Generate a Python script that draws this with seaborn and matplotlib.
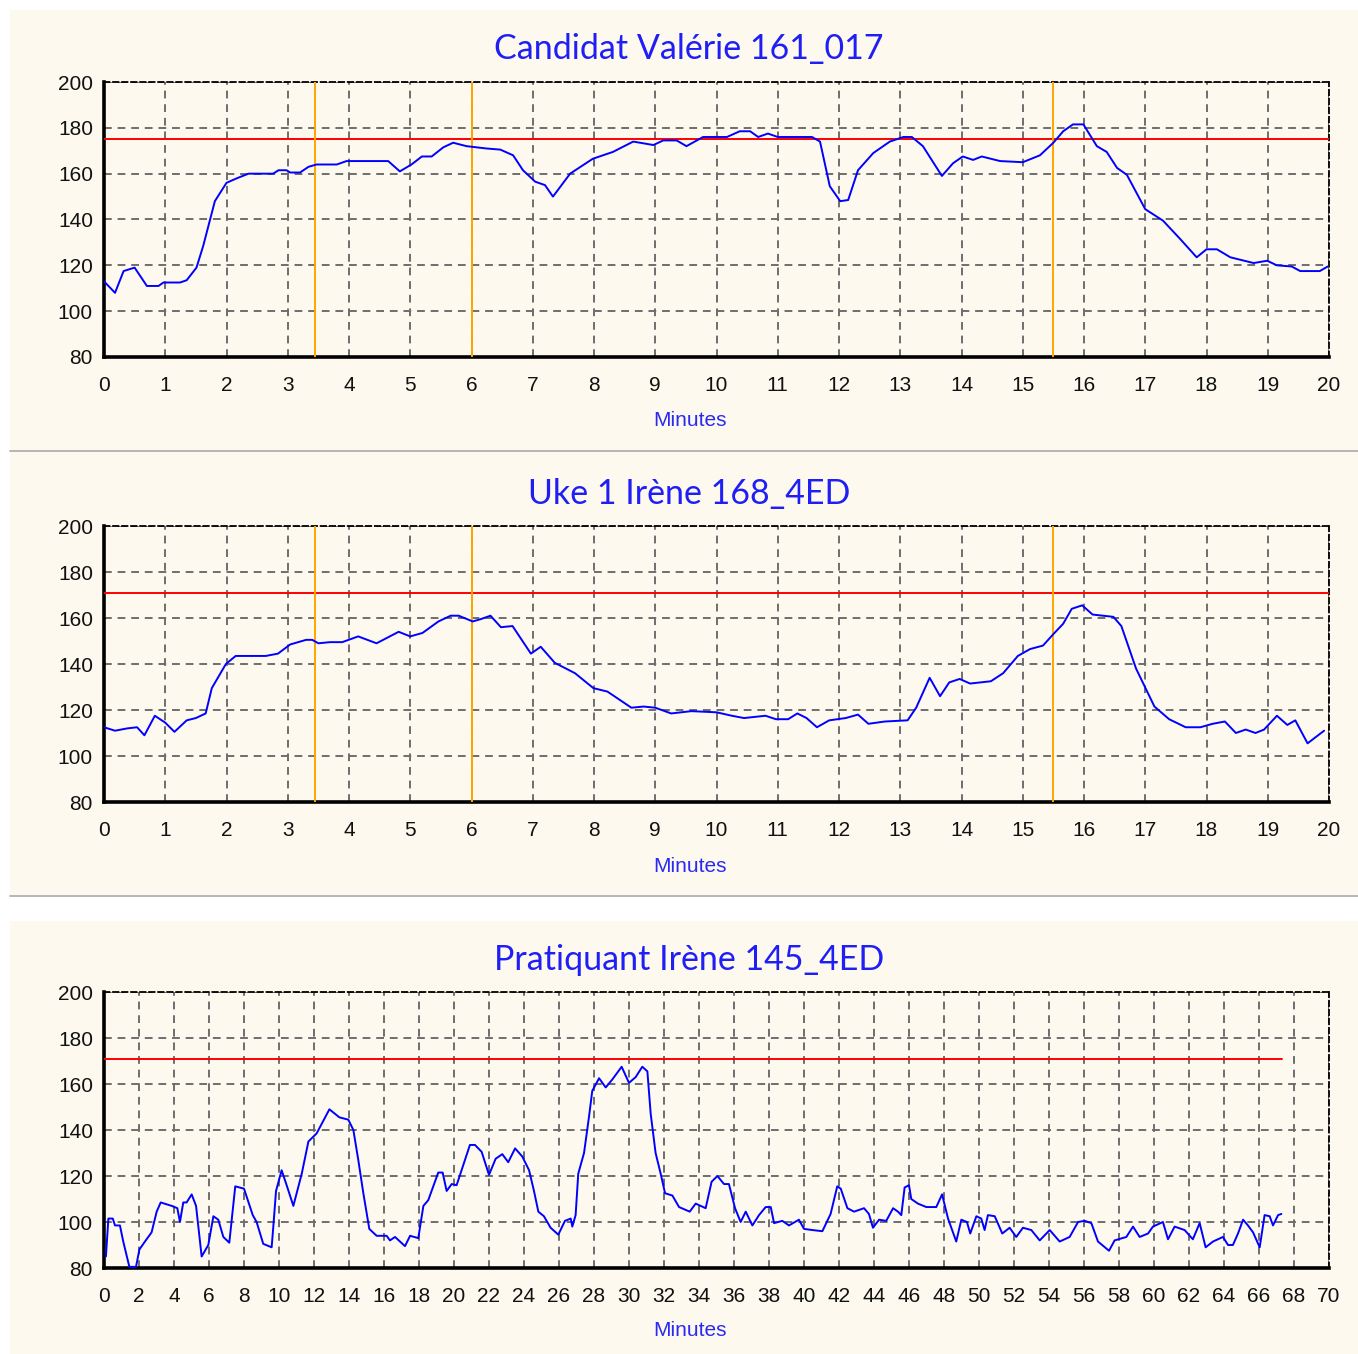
import numpy as np
import pandas as pd
import matplotlib
matplotlib.use("Agg")
import matplotlib.pyplot as plt
import seaborn as sns
from matplotlib.patches import Rectangle
from matplotlib.lines import Line2D
from matplotlib.ticker import MultipleLocator

# --- data (minutes, heart rate bpm) ---
titles = ["Candidat Valérie 161_017", "Uke 1 Irène 168_4ED", "Pratiquant Irène 145_4ED"]

t1 = [0.0, 0.18, 0.32, 0.5, 0.7, 0.89, 0.97, 1.24, 1.35, 1.51, 1.62, 1.81, 2.0, 2.17, 2.36,
      2.76, 2.85, 2.98, 3.04, 3.2, 3.34, 3.47, 3.8, 3.96, 4.29, 4.64, 4.83, 5.02, 5.19, 5.35,
      5.54, 5.7, 5.92, 6.24, 6.47, 6.68, 6.84, 7.04, 7.2, 7.33, 7.61, 7.98, 8.31, 8.64, 8.97,
      9.13, 9.35, 9.51, 9.78, 10.17, 10.38, 10.55, 10.68, 10.84, 11.0, 11.25, 11.56, 11.69,
      11.85, 12.02, 12.15, 12.31, 12.56, 12.83, 13.05, 13.19, 13.37, 13.68, 13.86, 14.02,
      14.19, 14.33, 14.63, 15.0, 15.28, 15.5, 15.66, 15.82, 15.99, 16.21, 16.37, 16.54, 16.7,
      17.0, 17.29, 17.57, 17.84, 18.0, 18.17, 18.39, 18.77, 18.99, 19.15, 19.39, 19.53, 19.85, 19.98]
hr1 = [113, 108, 117.5, 119, 111, 111, 112.5, 112.5, 113.5, 119, 128.5, 148, 156, 158, 160,
       160, 161.5, 161.5, 160.5, 160.5, 163, 164, 164, 165.5, 165.5, 165.5, 161, 164, 167.5, 167.5,
       171.5, 173.5, 172, 171, 170.5, 168, 161.5, 156.5, 155, 150, 160, 166.5, 169.5, 174, 172.5,
       174.5, 174.5, 172, 176, 176, 178.5, 178.5, 176, 177.5, 176, 176, 176, 174,
       154.5, 148, 148.5, 161.5, 169, 174, 176, 176, 172, 159, 164.5, 167.5,
       166, 167.5, 165.5, 165, 168, 173.5, 178.5, 181.5, 181.5, 172, 169.5, 162.5, 159.5,
       144.5, 139.5, 131.5, 123.5, 127, 127, 123.5, 121, 122, 120, 119.5, 117.5, 117.5, 119.5]

t2 = [0.0, 0.18, 0.38, 0.54, 0.66, 0.83, 1.0, 1.15, 1.35, 1.5, 1.66, 1.76, 1.99, 2.15, 2.64,
      2.84, 3.04, 3.3, 3.4, 3.5, 3.69, 3.89, 4.15, 4.45, 4.81, 5.0, 5.2, 5.46, 5.66, 5.79,
      6.02, 6.15, 6.31, 6.48, 6.67, 6.97, 7.13, 7.36, 7.69, 7.99, 8.22, 8.61, 8.81, 9.0,
      9.26, 9.59, 10.0, 10.25, 10.45, 10.8, 10.97, 11.17, 11.32, 11.47, 11.64, 11.84,
      12.11, 12.31, 12.48, 12.75, 13.12, 13.26, 13.48, 13.65, 13.8, 13.97, 14.14, 14.48,
      14.68, 14.92, 15.12, 15.33, 15.5, 15.66, 15.8, 15.97, 16.14, 16.48, 16.61, 16.85,
      17.15, 17.39, 17.66, 17.9, 18.1, 18.3, 18.48, 18.64, 18.8, 18.94, 19.15, 19.32,
      19.45, 19.65, 19.92]
hr2 = [112.5, 111, 112, 112.5, 109, 117.5, 114.5, 110.5, 115.5, 116.5, 118.5, 129.5, 140, 143.5, 143.5,
       144.5, 148.5, 150.5, 150.5, 149, 149.5, 149.5, 152, 149, 154, 152, 153.5, 158.5, 161, 161,
       158.5, 159.5, 161, 156, 156.5, 144.5, 147.5, 140.5, 136, 129.5, 128, 121, 121.5, 121,
       118.5, 119.5, 119, 117.5, 116.5, 117.5, 116, 116, 118.5, 116.5, 112.5, 115.5,
       116.5, 118, 114, 115, 115.5, 121, 134, 126, 132, 133.5, 131.5, 132.5,
       136, 143.5, 146.5, 148, 153, 157.5, 164, 165.5, 161.5, 160.5, 156.5, 138,
       121.5, 116, 112.5, 112.5, 114, 115, 110, 111.5, 110, 111.5, 117.5, 113.5,
       115.5, 105.5, 111]

t3 = [0.11, 0.25, 0.5, 0.63, 0.91, 1.1, 1.45, 1.83, 2.02, 2.34, 2.72, 3.01, 3.24, 3.87, 4.19,
      4.34, 4.53, 4.72, 5.01, 5.26, 5.58, 5.96, 6.25, 6.53, 6.82, 7.16, 7.5, 8.0, 8.5, 8.72,
      9.1, 9.58, 9.68, 9.83, 10.15, 10.48, 10.82, 11.3, 11.68, 12.15, 12.88, 13.45, 13.96,
      14.25, 14.53, 14.82, 15.16, 15.58, 16.15, 16.34, 16.63, 17.2, 17.49, 17.96, 18.25,
      18.53, 19.1, 19.35, 19.58, 19.87, 20.15, 20.91, 21.2, 21.58, 22.0, 22.38, 22.76,
      23.1, 23.49, 23.9, 24.29, 24.57, 24.82, 25.14, 25.52, 25.96, 26.34, 26.67, 26.76,
      26.95, 27.1, 27.43, 27.71, 27.9, 28.29, 28.67, 29.05, 29.58, 30.0, 30.38, 30.76,
      31.05, 31.24, 31.52, 31.81, 32.06, 32.48, 32.86, 33.47, 33.81, 34.38, 34.72, 35.05,
      35.43, 35.71, 36.06, 36.38, 36.67, 37.05, 37.43, 37.81, 38.1, 38.29, 38.76, 39.14,
      39.71, 40.0, 40.48, 41.05, 41.52, 41.9, 42.1, 42.48, 42.86, 43.43, 43.71, 43.94,
      44.29, 44.7, 45.09, 45.37, 45.56, 45.75, 46.0, 46.13, 46.51, 46.99, 47.56, 47.89,
      48.23, 48.7, 48.99, 49.31, 49.5, 49.85, 50.13, 50.32, 50.51, 50.9, 51.33, 51.75,
      52.13, 52.51, 52.99, 53.47, 54.04, 54.61, 55.18, 55.66, 56.04, 56.42, 56.8, 57.43,
      57.75, 58.42, 58.8, 59.18, 59.66, 59.94, 60.51, 60.8, 61.18, 61.75, 62.22, 62.61,
      62.95, 63.37, 63.94, 64.23, 64.51, 64.8, 65.09, 65.37, 65.66, 66.04, 66.32, 66.61,
      66.8, 67.09, 67.28]
hr3 = [85, 101.5, 101.5, 98.5, 98.5, 91.5, 80.5, 80.5, 88, 91.5, 95.5, 104.5, 108.5, 107, 106,
       100, 108.5, 108.5, 112, 107, 85, 90, 102.5, 101, 93.5, 91, 115.5, 114.5, 103, 100,
       90.5, 89, 98.5, 113.5, 122.5, 115, 107, 121, 135, 138.5, 149, 145.5, 144.5,
       140, 127, 112.5, 97, 94, 94, 92, 93.5, 89.5, 94, 93, 107,
       109.5, 121.5, 121.5, 113.5, 116.5, 116, 133.5, 133.5, 130.5, 120.5, 127.5, 129.5,
       126, 132, 128.5, 122.5, 113.5, 104.5, 102.5, 97.5, 94.5, 100.5, 101.5, 98,
       103, 121, 130, 145.5, 157, 162.5, 158.5, 162, 167.5, 160.5, 163, 167.5,
       165.5, 147, 130, 121, 112.5, 111.5, 106.5, 104.5, 108, 106, 117.5, 120,
       116.5, 116.5, 106, 100, 104.5, 98.5, 103, 106.5, 106.5, 99.5, 100.5, 98.5,
       101, 97, 96.5, 96, 103.5, 115.5, 114.5, 106, 104.5, 106, 103.5, 97.5,
       101, 100.5, 106, 104.5, 103, 115, 116, 110, 108, 106.5, 106.5, 112,
       101.5, 91.5, 101, 100, 95, 102.5, 101.5, 96.5, 103, 102.5, 95, 97.5,
       93.5, 97.5, 96.5, 92, 96.5, 91.5, 93.5, 100, 100.5, 99.5, 91.5, 87.5,
       92, 93.5, 98, 93.5, 95, 98, 100, 92.5, 98, 96.5, 92.5, 99.5,
       89, 91.5, 93.5, 90, 90, 95, 101, 98.5, 95.5, 89, 103, 102.5,
       98.5, 103, 103.5]

times = [t1, t2, t3]
rates = [hr1, hr2, hr3]
thresholds = [175, 171, 171]
threshold_end = [20, 20, 67.3]
markers = [[3.45, 6.0, 15.5], [3.45, 6.0, 15.5], []]
x_max = [20, 20, 70]
x_step = [1, 1, 2]

# --- figure layout (pixel-based) ---
W, H = 1358, 1354
cream = "#FDF9EE"
blue = "#0000FF"
axes_px = [(82, 357), (526, 802), (992, 1268)]        # top, bottom of each plot box
panel_px = [(10, 450), (452, 895), (921, 1354)]       # cream panel spans
sep_px = [451, 896]
title_y = [49, 494, 960]
xlabel_y = [421, 866, 1331]

sns.set_style("white")
plt.rcParams["font.family"] = ["Liberation Sans", "DejaVu Sans"]

fig = plt.figure(figsize=(W / 100, H / 100), dpi=100, facecolor="white")

for top, bot in panel_px:
    fig.add_artist(Rectangle((10 / W, 1 - bot / H), 1 - 10 / W, (bot - top) / H,
                             transform=fig.transFigure, facecolor=cream,
                             edgecolor="none", zorder=-10))
for y in sep_px:
    fig.add_artist(Line2D([10 / W, 1], [1 - y / H] * 2, transform=fig.transFigure,
                          color="#A9A9A9", lw=1.2))

for i in range(3):
    top, bot = axes_px[i]
    ax = fig.add_axes([104 / W, 1 - bot / H, 1225 / W, (bot - top) / H])
    ax.set_facecolor(cream)

    df = pd.DataFrame({"Minutes": times[i], "HR": rates[i]})
    sns.lineplot(data=df, x="Minutes", y="HR", ax=ax, color=blue, lw=1.4,
                 sort=False, estimator=None, zorder=4)

    ax.plot([0, threshold_end[i]], [thresholds[i]] * 2, color="#FF0000", lw=1.4, zorder=3)
    for m in markers[i]:
        ax.axvline(m, color="#FFA500", lw=1.4, zorder=3)

    ax.set_xlim(0, x_max[i])
    ax.set_ylim(80, 200)
    ax.xaxis.set_major_locator(MultipleLocator(x_step[i]))
    ax.xaxis.set_minor_locator(MultipleLocator(x_step[i] / 4))
    ax.yaxis.set_major_locator(MultipleLocator(20))
    ax.yaxis.set_minor_locator(MultipleLocator(5))

    ax.grid(True, which="major", color="#6E6E6E", lw=1.4, linestyle=(0, (4, 3)))
    ax.set_axisbelow(True)

    for side in ["left", "bottom"]:
        ax.spines[side].set_linewidth(2.6)
        ax.spines[side].set_color("black")
    for side in ["top", "right"]:
        ax.spines[side].set_linewidth(1.3)
        ax.spines[side].set_color("black")
        ax.spines[side].set_linestyle((0, (3, 2)))

    ax.tick_params(axis="both", which="major", direction="out", length=5, width=1.2,
                   color="black", labelsize=15, labelcolor="#111111")
    ax.tick_params(axis="x", which="major", pad=9)
    ax.tick_params(axis="y", which="major", pad=3)
    ax.tick_params(axis="both", which="minor", direction="out", length=3, width=1,
                   color="black")

    ax.set_ylabel("")
    ax.set_xlabel("")

    fig.text(690 / W, 1 - xlabel_y[i] / H, "Minutes", ha="center", va="center",
             color="#2A2AF0", fontsize=15)
    fig.text(689 / W, 1 - title_y[i] / H, titles[i], ha="center", va="center",
             color="#1F1FF5", fontsize=24.5, family=["Lato", "DejaVu Sans"])

fig.savefig("out.png", dpi=100, facecolor="white")
